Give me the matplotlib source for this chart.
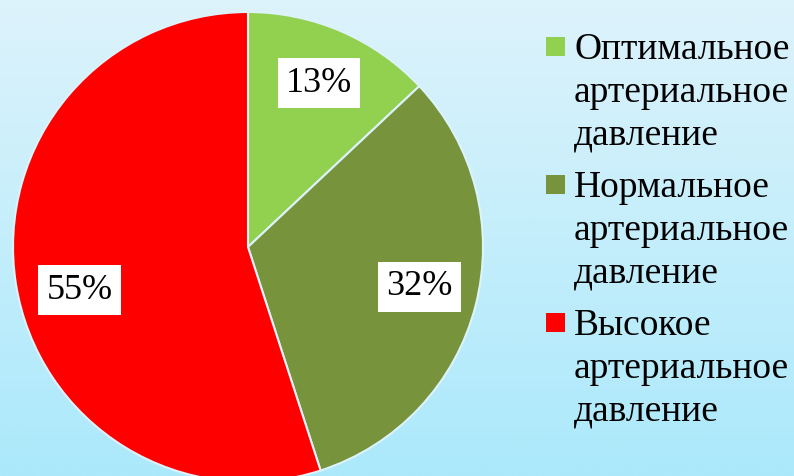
import numpy as np
import matplotlib.pyplot as plt
from matplotlib.patches import Rectangle
from matplotlib.colors import LinearSegmentedColormap

labels = ['Оптимальное\nартериальное\nдавление',
          'Нормальное\nартериальное\nдавление',
          'Высокое\nартериальное\nдавление']
values = [13, 32, 55]
colors = ['#92D050', '#77933C', '#FF0000']

plt.rcParams['font.family'] = ['Liberation Serif', 'DejaVu Serif']

W, H = 794, 476
fig = plt.figure(figsize=(W / 100, H / 100), dpi=100)

# background gradient
bg = fig.add_axes([0, 0, 1, 1], zorder=-1)
cmap = LinearSegmentedColormap.from_list('bg', ['#DDF3FB', '#ABE9FB'])
bg.imshow(np.linspace(0, 1, 256).reshape(-1, 1), aspect='auto', cmap=cmap,
          extent=[0, 1, 0, 1])
bg.axis('off')

ax = fig.add_axes([13 / W, -6 / H, 470 / W, 470 / H])
wedges, texts, autotexts = ax.pie(
    values, colors=colors, startangle=90, counterclock=False, radius=1,
    autopct='%1.0f%%', pctdistance=0.76,
    wedgeprops=dict(edgecolor='#DDF3FB', linewidth=1.5),
    textprops=dict(fontsize=26, color='black'))
for t in autotexts:
    t.set_bbox(dict(facecolor='white', edgecolor='none', pad=6))
# data labels sit a bit off the mid-angle in the original
autotexts[1].set_position((0.73, -0.17))
autotexts[2].set_position((-0.717, -0.183))
ax.set_xlim(-1, 1)
ax.set_ylim(-1, 1)
ax.set_aspect('equal')
ax.axis('off')

# legend, drawn by hand so the markers line up with the first line
for i, (lab, c) in enumerate(zip(labels, colors)):
    top = 37 + 138 * i
    fig.patches.append(Rectangle((546 / W, 1 - (top + 19) / H), 19 / W, 19 / H,
                                 facecolor=c, edgecolor='none',
                                 transform=fig.transFigure))
    for j, line in enumerate(lab.split('\n')):
        fig.text(574 / W, 1 - (59 + 138 * i + 43 * j) / H, line,
                 fontsize=27, va='baseline', ha='left')

fig.savefig('out.png', dpi=100)
